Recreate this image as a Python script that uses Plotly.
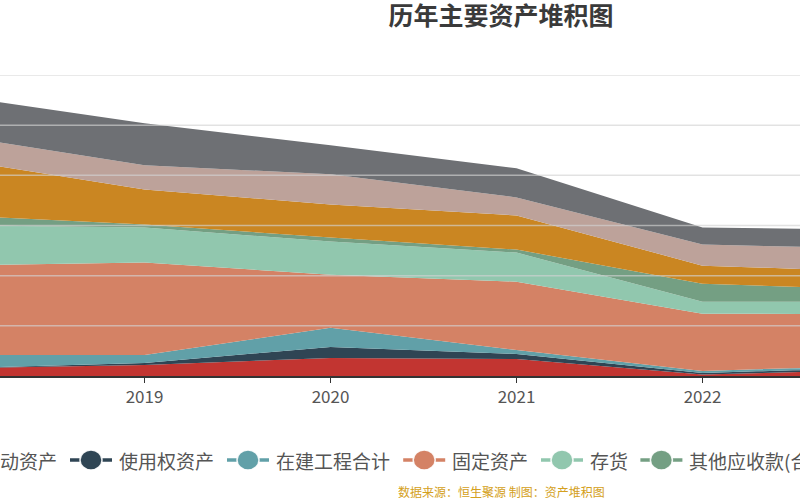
import plotly.graph_objects as go

# ---------------- data (亿元) ----------------
years = [2018, 2019, 2020, 2021, 2022, 2023]
series_names = ["其他流动资产", "使用权资产", "在建工程合计", "固定资产", "存货",
                "其他应收款(合计)", "应收账款", "无形资产", "货币资金"]
v_other_current = [0.78, 1.1, 1.8, 1.7, 0.15, 0.63]
v_right_of_use = [0.0, 0.2, 1.1, 0.5, 0.15, 0.25]
v_construction = [1.31, 0.8, 1.9, 0.4, 0.2, 0.2]
v_fixed = [8.94, 9.2, 5.3, 6.8, 5.7, 5.1]
v_inventory = [4.01, 3.5, 3.3, 2.9, 1.2, 1.2]
v_other_recv = [0.95, 0.3, 0.4, 0.3, 1.8, 1.2]
v_receivable = [5.55, 3.5, 3.3, 3.4, 1.8, 1.8]
v_intangible = [2.4, 2.4, 3.0, 1.8, 2.1, 2.3]
v_cash = [3.95, 4.2, 2.9, 2.9, 1.7, 1.9]
series_values = [v_other_current, v_right_of_use, v_construction, v_fixed, v_inventory,
                 v_other_recv, v_receivable, v_intangible, v_cash]
tick_years = [2018, 2019, 2020, 2021, 2022, 2023]
grid_values = [5, 10, 15, 20, 25, 30]

colors = ["#c23531", "#2f4554", "#61a0a8", "#d48265", "#91c7ae",
          "#749f83", "#ca8622", "#bda29a", "#6e7074"]

W, H = 800, 500
M_T, M_B = 75, 124
PLOT_H = H - M_T - M_B

fig = go.Figure()
for name, vals, c in zip(series_names, series_values, colors):
    fig.add_trace(go.Scatter(
        x=years, y=vals, name=name, mode="lines", stackgroup="one",
        line=dict(width=0, color=c), fillcolor=c, hoverinfo="skip",
        showlegend=False))

# gridlines drawn above the areas (as in the reference)
shapes = []
for gv in grid_values:
    shapes.append(dict(type="line", xref="paper", yref="y", x0=0, x1=1, y0=gv, y1=gv,
                       line=dict(color="rgba(210,210,210,0.65)", width=1.5), layer="above"))

# custom one-row legend (extends beyond canvas like the reference)
def px_x(px):
    return px / W

def px_y(py):
    return (H - M_B - py) / PLOT_H

CH = 19.2
LEG_Y = 460
widths = [47 + CH * len(n) + 14 for n in series_names]
starts = [70 - widths[0]]
for w in widths[:-1]:
    starts.append(starts[-1] + w)

annotations = []
for name, c, s in zip(series_names, colors, starts):
    shapes.append(dict(type="line", xref="paper", yref="paper",
                       x0=px_x(s), x1=px_x(s + 42), y0=px_y(LEG_Y), y1=px_y(LEG_Y),
                       line=dict(color=c, width=3.5)))
    shapes.append(dict(type="circle", xref="paper", yref="paper",
                       x0=px_x(s + 10), x1=px_x(s + 32),
                       y0=px_y(LEG_Y + 10), y1=px_y(LEG_Y - 10),
                       fillcolor=c, line=dict(color="rgba(255,255,255,0.9)", width=1.5)))
    annotations.append(dict(text=name, xref="paper", yref="paper", x=px_x(s + 47),
                            y=px_y(LEG_Y), xanchor="left", yanchor="middle",
                            showarrow=False,
                            font=dict(size=19, color="#555555", family="Noto Sans CJK SC")))

annotations.append(dict(text="数据来源：恒生聚源 制图：资产堆积图", xref="paper", yref="paper",
                        x=px_x(501), y=px_y(491), xanchor="center", yanchor="middle",
                        showarrow=False,
                        font=dict(size=12, color="#d4a020", family="Noto Sans CJK SC")))

fig.update_layout(
    width=W, height=H,
    margin=dict(l=0, r=0, t=M_T, b=M_B),
    paper_bgcolor="white", plot_bgcolor="white",
    title=dict(text="<b>历年主要资产堆积图</b>", x=501 / W, xanchor="center",
               xref="container", y=1 - 16 / H, yref="container", yanchor="middle",
               font=dict(size=25, color="#3a3a3a", family="Noto Sans CJK SC")),
    xaxis=dict(range=[2019 - 144.5 / 186, 2019 + (W - 144.5) / 186],
               tickmode="array", tickvals=tick_years, ticktext=[str(y) for y in tick_years],
               showgrid=False, zeroline=False, showline=True, linecolor="#333333",
               linewidth=1.5, ticks="outside", ticklen=5, tickcolor="#333333",
               tickfont=dict(size=17, color="#555555", family="Noto Sans CJK SC")),
    yaxis=dict(range=[0, 30], showgrid=False, zeroline=False, showticklabels=False,
               showline=False),
    shapes=shapes, annotations=annotations,
)

fig.write_html("out.html")
